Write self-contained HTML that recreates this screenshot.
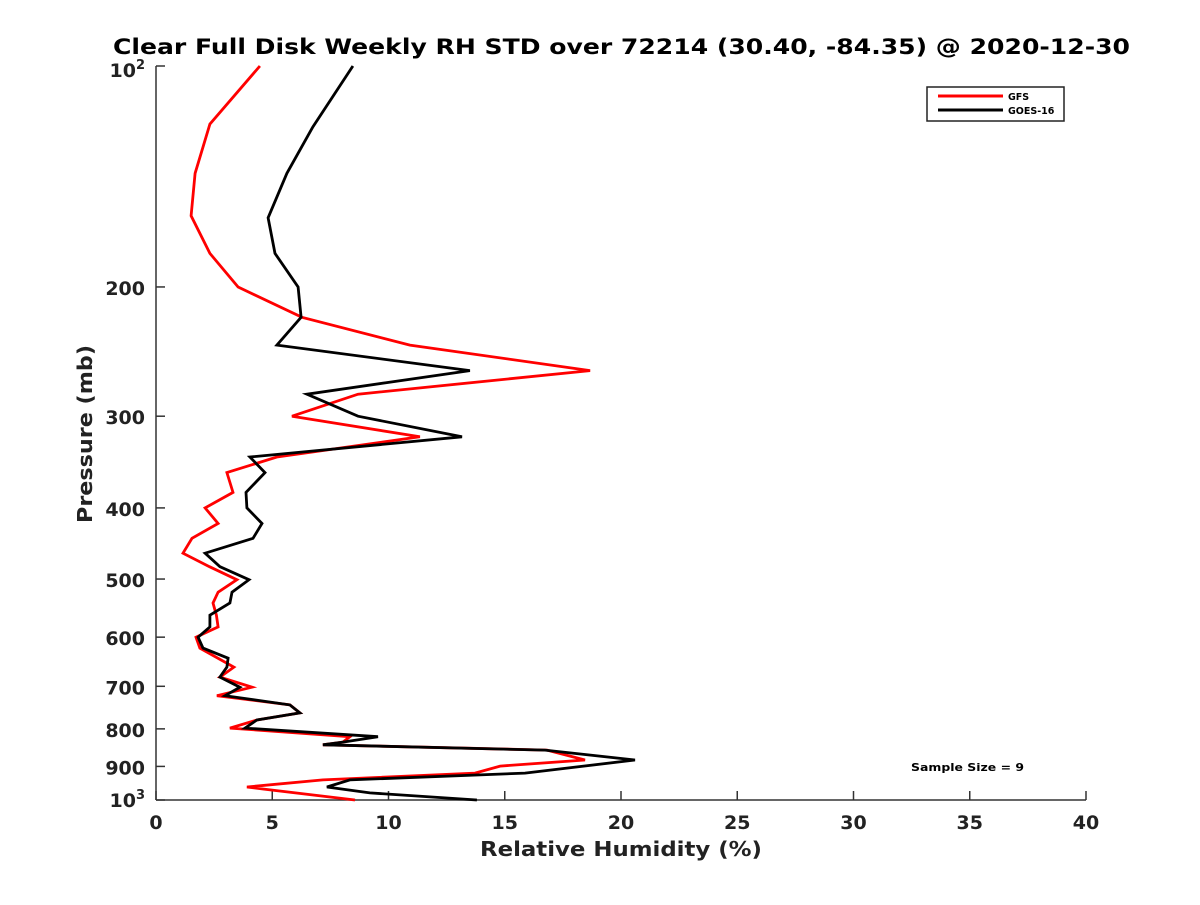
<!DOCTYPE html>
<html><head><meta charset="utf-8"><style>
body{margin:0;background:#fff;}
svg text{font-family:"DejaVu Sans","Liberation Sans",sans-serif;font-weight:bold;}
</style></head><body>
<svg id="chart" width="1200" height="900" viewBox="0 0 1200 900" xmlns="http://www.w3.org/2000/svg">
<rect width="1200" height="900" fill="#fff"/>
<text x="113" y="54" font-size="21" textLength="1017" lengthAdjust="spacingAndGlyphs" fill="#000">Clear Full Disk Weekly RH STD over 72214 (30.40, -84.35) @ 2020-12-30</text>
<g id="axes"></g>
<g id="series"></g>
<g>
<rect x="927" y="87" width="137" height="34" fill="#fff" stroke="#222" stroke-width="1.5"/>
<line x1="938" y1="96" x2="1003" y2="96" stroke="#f00" stroke-width="3"/>
<text x="1008" y="100" font-size="9.5">GFS</text>
<line x1="938" y1="110" x2="1003" y2="110" stroke="#000" stroke-width="3"/>
<text x="1008" y="114" font-size="9.5">GOES-16</text>
</g>
<text x="911" y="771" font-size="11" textLength="113" lengthAdjust="spacingAndGlyphs">Sample Size = 9</text>
<text x="480" y="856" font-size="20" textLength="282" lengthAdjust="spacingAndGlyphs" fill="#222">Relative Humidity (%)</text>
<text x="0" y="0" font-size="20" text-anchor="middle" textLength="178" lengthAdjust="spacingAndGlyphs" fill="#222" transform="translate(92,434) rotate(-90)">Pressure (mb)</text>
</svg>
<script>
const xTicks=[0,5,10,15,20,25,30,35,40];
const yTicks=[100,200,300,400,500,600,700,800,900,1000];
const yTickLabels=["10|2","200","300","400","500","600","700","800","900","10|3"];
const gfsPressure=[100,120,140,160,180,200,220,240,260,280,300,320,341,358,381,400,420,440,461,481,501,521,539,560,581,600,621,659,680,702,721,742,761,778,798,820,834,841,855,882,899,919,939,960,966,1000];
const gfsValues=[4.47,2.32,1.68,1.51,2.32,3.53,6.28,10.92,18.67,8.69,5.85,11.35,5.2,3.05,3.31,2.11,2.67,1.55,1.16,2.3,3.48,2.67,2.45,2.6,2.67,1.72,1.89,3.35,2.75,4.13,2.62,5.76,6.19,4.34,3.18,8.34,8.04,7.18,16.82,18.45,14.8,13.72,7.18,3.91,4.6,8.56];
const goesPressure=[100,121,140,161,180,200,220,240,260,280,300,320,341,358,381,400,420,440,461,481,501,521,539,560,581,600,621,641,659,680,702,721,742,761,778,798,820,834,841,855,882,919,939,960,978,1000];
const goesValues=[8.47,6.75,5.63,4.82,5.12,6.11,6.24,5.2,13.5,6.49,8.69,13.16,4.04,4.69,3.87,3.91,4.56,4.17,2.11,2.75,4.0,3.27,3.18,2.32,2.32,1.81,2.02,3.1,3.05,2.75,3.61,2.97,5.76,6.19,4.34,3.83,9.55,8.04,7.18,16.73,20.6,15.87,8.34,7.35,9.2,13.8];
const X0=156,X1=1086,Y0=66,Y1=800;
const xs=v=>X0+(v-0)/(40-0)*(X1-X0);
const ys=p=>Y0+(Math.log10(p)-2)*(Y1-Y0);
const NS="http://www.w3.org/2000/svg";
const axes=document.getElementById('axes');
function mk(tag,attrs,parent){const e=document.createElementNS(NS,tag);for(const k in attrs)e.setAttribute(k,attrs[k]);parent.appendChild(e);return e;}
const yAxis=mk('line',{x1:X0,y1:Y0,x2:X0,y2:Y1,stroke:'#333','stroke-width':1.5},axes);


const xAxis=mk('line',{x1:X0,y1:Y1,x2:X1,y2:Y1,stroke:'#333','stroke-width':1.5},axes);


xTicks.forEach(v=>{
  const t=mk('line',{x1:xs(v),y1:Y1,x2:xs(v),y2:Y1-9,stroke:'#333','stroke-width':1.5},axes);
  
  
  const l=mk('text',{x:xs(v),y:Y1+29,'font-size':19,'text-anchor':'middle',fill:'#222'},axes);
  
  
  l.textContent=v;
});
yTicks.forEach((p,i)=>{
  const t=mk('line',{x1:X0,y1:ys(p),x2:X0+9,y2:ys(p),stroke:'#333','stroke-width':1.5},axes);
  
  
  const parts=yTickLabels[i].split('|');
  const l=mk('text',{x:X0-11,y:ys(p)+8,'font-size':19,'text-anchor':'end',fill:'#222'},axes);
  
  
  if(parts.length>1){
    l.setAttribute('y',ys(p)+(i===0?11:7));
    const a=mk('tspan',{},l);a.textContent=parts[0];
    const b=mk('tspan',{dy:-8,'font-size':13},l);b.textContent=parts[1];
  } else l.textContent=parts[0];
});
const ser=document.getElementById('series');
function line(ps,vs,color,name){
  const d=ps.map((p,i)=>(i?'L':'M')+xs(vs[i]).toFixed(1)+' '+ys(p).toFixed(1)).join(' ');
  const e=mk('path',{d:d,fill:'none',stroke:color,'stroke-width':2.8,'stroke-linejoin':'miter'},ser);
  
  
}
line(gfsPressure,gfsValues,'#f00','gfs-line');
line(goesPressure,goesValues,'#000','goes16-line');
</script>
</body></html>
